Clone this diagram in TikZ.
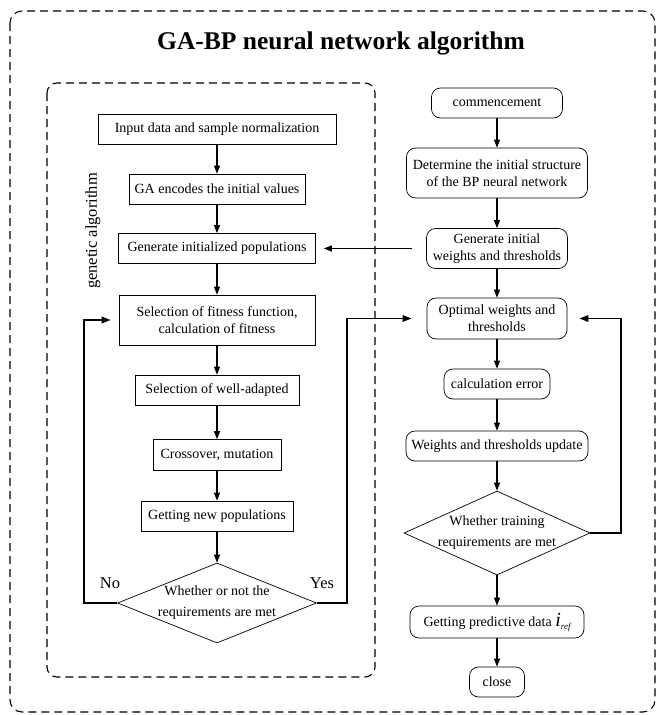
\documentclass[tikz,border=0pt]{standalone}
\usepackage{fontspec}
\setmainfont{Liberation Serif}
\usetikzlibrary{shapes.geometric, arrows.meta, positioning}

\tikzset{
  block/.style={draw, line width=0.7pt, rectangle, minimum height=30pt, inner sep=2pt, align=center, font=\fontsize{14}{17}\selectfont},
  rblock/.style={block, rounded corners=9pt},
  decision/.style={draw, line width=0.7pt, diamond, aspect=2.4, inner sep=-6pt, align=center, font=\fontsize{14}{21}\selectfont},
  flow/.style={line width=1.2pt, -{Triangle[length=8pt,width=6pt]}},
  backflow/.style={line width=1.8pt, -{Triangle[length=9pt,width=6.5pt]}},
  dashframe/.style={line width=1.1pt, dash pattern=on 8pt off 5pt, rounded corners=12pt},
  tag/.style={font=\fontsize{16.5}{20}\selectfont}
}

\begin{document}
\begin{tikzpicture}[x=1pt, y=-1pt]
			\useasboundingbox (0,0) rectangle (660,715);
			% Outer frame and title
			\draw[dashframe] (10,11) rectangle (655,712);
			\node (title) at (341,43) {\fontsize{25.5}{30}\selectfont\bfseries GA-BP neural network algorithm};
			% Genetic algorithm frame
			\draw[dashframe, rounded corners=10pt] (47,83) rectangle (375,677);
			\node[tag, rotate=90] (galabel) at (93,231) {genetic algorithm};
			% Left column: genetic algorithm steps
			\node[block, minimum width=238pt] (input) at (217,129) {Input data and sample normalization};
			\node[block, minimum width=176pt] (encode) at (217,189) {GA encodes the initial values};
			\node[block, minimum width=197pt] (initpop) at (217,248.5) {Generate initialized populations};
			\node[block, minimum width=196pt, minimum height=50pt] (fitness) at (217,320) {Selection of fitness function,\\ calculation of fitness};
			\node[block, minimum width=164pt] (select) at (217,390) {Selection of well-adapted};
			\node[block, minimum width=128pt, minimum height=31pt] (cross) at (217,455) {Crossover, mutation};
			\node[block, minimum width=152pt] (newpop) at (217,516) {Getting new populations};
			\node[decision, aspect=2.5, minimum width=199pt, minimum height=80pt] (gajudge) at (217,603) {Whether or not the\\ requirements are met};
			\node[tag] (no) at (110,583) {No};
			\node[tag] (yes) at (322,583) {Yes};
			% Right column: BP network steps
			\node[rblock, minimum width=131pt] (start) at (497,103) {commencement};
			\node[rblock, minimum width=181pt, minimum height=50pt] (struct) at (497,173) {Determine the initial structure\\ of the BP neural network};
			\node[rblock, minimum width=141pt, minimum height=40pt] (genwt) at (497,248.5) {Generate initial\\ weights and thresholds};
			\node[rblock, minimum width=140pt, minimum height=41pt] (optwt) at (497,318.5) {Optimal weights and\\ thresholds};
			\node[rblock, minimum width=106pt] (error) at (497,384) {calculation error};
			\node[rblock, minimum width=182pt] (update) at (497,446) {Weights and thresholds update};
			\node[decision, aspect=2.2, minimum width=186pt, minimum height=84pt] (bpjudge) at (497,533) {Whether training\\ requirements are met};
			\node[rblock, minimum width=174pt, minimum height=32pt] (predict) at (497,622) {Getting predictive data {\fontsize{20}{20}\selectfont\itshape i}\raisebox{-3pt}{\fontsize{9}{9}\selectfont\itshape ref}};
			\node[rblock, minimum width=55pt] (close) at (497,682) {close};
			% Arrows down the left column
			\draw[flow] (input) -- (encode);
			\draw[flow] (encode) -- (initpop);
			\draw[flow] (initpop) -- (fitness);
			\draw[flow] (fitness) -- (select);
			\draw[flow] (select) -- (cross);
			\draw[flow] (cross) -- (newpop);
			\draw[flow] (newpop) -- (gajudge);
			% Arrows down the right column
			\draw[flow] (start) -- (struct);
			\draw[flow] (struct) -- (genwt);
			\draw[flow] (genwt) -- (optwt);
			\draw[flow] (optwt) -- (error);
			\draw[flow] (error) -- (update);
			\draw[flow] (update) -- (bpjudge);
			\draw[flow] (bpjudge) -- (predict);
			\draw[flow] (predict) -- (close);
			% Cross links and loops
			\draw[flow, line width=1.5pt, shorten <=14pt, shorten >=8pt] (genwt.west) -- (initpop.east);
			\draw[backflow, shorten >=8pt] (gajudge.west) -- ++(-33,0) |- (fitness.west);
			\draw[backflow, shorten >=15pt] (gajudge.east) -- ++(30,0) |- (optwt.west);
			\draw[backflow, shorten >=12pt] (bpjudge.east) -- ++(31,0) |- (optwt.east);
		\end{tikzpicture}
\end{document}
